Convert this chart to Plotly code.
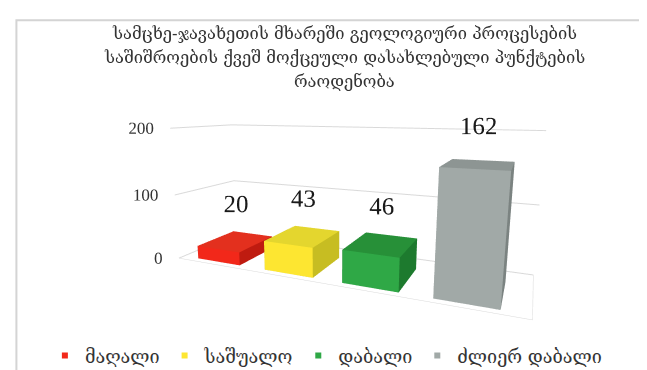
import plotly.graph_objects as go

# data
categories = ["მაღალი", "საშუალო", "დაბალი", "ძლიერ დაბალი"]
values = [20, 43, 46, 162]
title_lines = [
    "სამცხე-ჯავახეთის მხარეში გეოლოგიური პროცესების",
    "საშიშროების ქვეშ მოქცეული დასახლებული პუნქტების",
    "რაოდენობა",
]
z_ticks = [0, 100, 200]

# face colours: front, top, right side
front_cols = ["#f2281a", "#fde631", "#2fa846", "#a1a9a7"]
top_cols = ["#e3301e", "#e4d62e", "#279038", "#8d9593"]
side_cols = ["#bf1b10", "#c7bd22", "#1d7a2e", "#7b8381"]

GEO_FONT = "DejaVu Serif"
NUM_FONT = "Liberation Serif"
X_MIN, X_MAX = -0.55, 3.6
PAD = "\u2800" * 14   # blank padding so the tick labels sit off the wall


def box(i, h, half=0.32, y0=0.08, y1=0.7):
    x0, x1 = i - half, i + half
    xs = [x0, x1, x1, x0, x0, x1, x1, x0]
    ys = [y0, y0, y1, y1, y0, y0, y1, y1]
    zs = [0, 0, 0, 0, h, h, h, h]
    tri = [(0, 1, 2), (0, 2, 3),   # bottom
           (4, 5, 6), (4, 6, 7),   # top
           (0, 1, 5), (0, 5, 4),   # front
           (3, 2, 6), (3, 6, 7),   # back
           (0, 3, 7), (0, 7, 4),   # left
           (1, 2, 6), (1, 6, 5)]   # right
    return xs, ys, zs, tri


fig = go.Figure()

for i, (cat, v) in enumerate(zip(categories, values)):
    xs, ys, zs, tri = box(i, v)
    fc = [side_cols[i]] * 2 + [top_cols[i]] * 2 + [front_cols[i]] * 2 + \
         [side_cols[i]] * 2 + [side_cols[i]] * 2 + [side_cols[i]] * 2
    fig.add_trace(go.Mesh3d(
        x=xs, y=ys, z=zs,
        i=[t[0] for t in tri], j=[t[1] for t in tri], k=[t[2] for t in tri],
        facecolor=fc, flatshading=True,
        lighting=dict(ambient=1, diffuse=0, specular=0, roughness=1, fresnel=0),
        hoverinfo="skip", showlegend=False, showscale=False,
    ))
    # legend entry
    fig.add_trace(go.Scatter3d(
        x=[None], y=[None], z=[None], mode="markers", name=cat,
        marker=dict(symbol="square", size=6, color=front_cols[i]),
    ))

# value labels
fig.add_trace(go.Scatter3d(
    x=list(range(len(values))), y=[0.39] * len(values),
    z=[v + 6 for v in values],
    mode="text", text=[str(v) for v in values],
    textfont=dict(family=NUM_FONT, size=25, color="#1a1a1a"),
    showlegend=False, hoverinfo="skip",
))

# z tick labels kept horizontal (placed at the front-left edge of the box)
fig.add_trace(go.Scatter3d(
    x=[X_MIN] * len(z_ticks), y=[0] * len(z_ticks), z=z_ticks,
    mode="text", text=[f"{t}{PAD}" for t in z_ticks],
    textposition="middle left",
    textfont=dict(family=NUM_FONT, size=17, color="#333"),
    showlegend=False, hoverinfo="skip",
))

# title, one annotation per line
annotations = []
for n, line in enumerate(title_lines):
    annotations.append(dict(
        text=line, xref="paper", yref="paper", x=0.52, xanchor="center",
        y=1 - (26 + 23.5 * n) / 370, yanchor="middle", showarrow=False,
        font=dict(family=GEO_FONT, size=16.5, color="#333"),
    ))

fig.update_layout(
    width=647, height=370,
    paper_bgcolor="white",
    margin=dict(l=0, r=0, t=0, b=0),
    annotations=annotations,
    showlegend=True,
    legend=dict(orientation="h", x=0.057, xanchor="left", y=0.01, yanchor="bottom",
                font=dict(family=GEO_FONT, size=18, color="#333"),
                itemwidth=30),
    scene=dict(
        domain=dict(x=[0, 1], y=[0, 1]),
        aspectmode="manual", aspectratio=dict(x=5.1, y=1.5, z=2.05),
        camera=dict(eye=dict(x=2.4, y=-5.9, z=1.3),
                    center=dict(x=-0.25, y=0, z=0.07),
                    projection=dict(type="perspective")),
        xaxis=dict(range=[X_MIN, X_MAX], showgrid=False, showticklabels=False,
                   title="", showline=True, linecolor="#d9d9d9",
                   zeroline=False, showspikes=False, showbackground=False),
        yaxis=dict(range=[0, 1.0], showgrid=False, showticklabels=False,
                   title="", showline=True, linecolor="#d9d9d9",
                   zeroline=False, showspikes=False, showbackground=False),
        zaxis=dict(range=[0, 202], tickvals=z_ticks, showgrid=True,
                   gridcolor="#d9d9d9", title="", showline=False,
                   showticklabels=False,
                   zeroline=False, showspikes=False, showbackground=False),
    ),
    shapes=[dict(type="rect", xref="paper", yref="paper",
                 x0=0.013, x1=1.2, y0=-0.2, y1=0.967,
                 line=dict(color="#d4d4d4", width=2))],
)

fig.write_html("out.html")
